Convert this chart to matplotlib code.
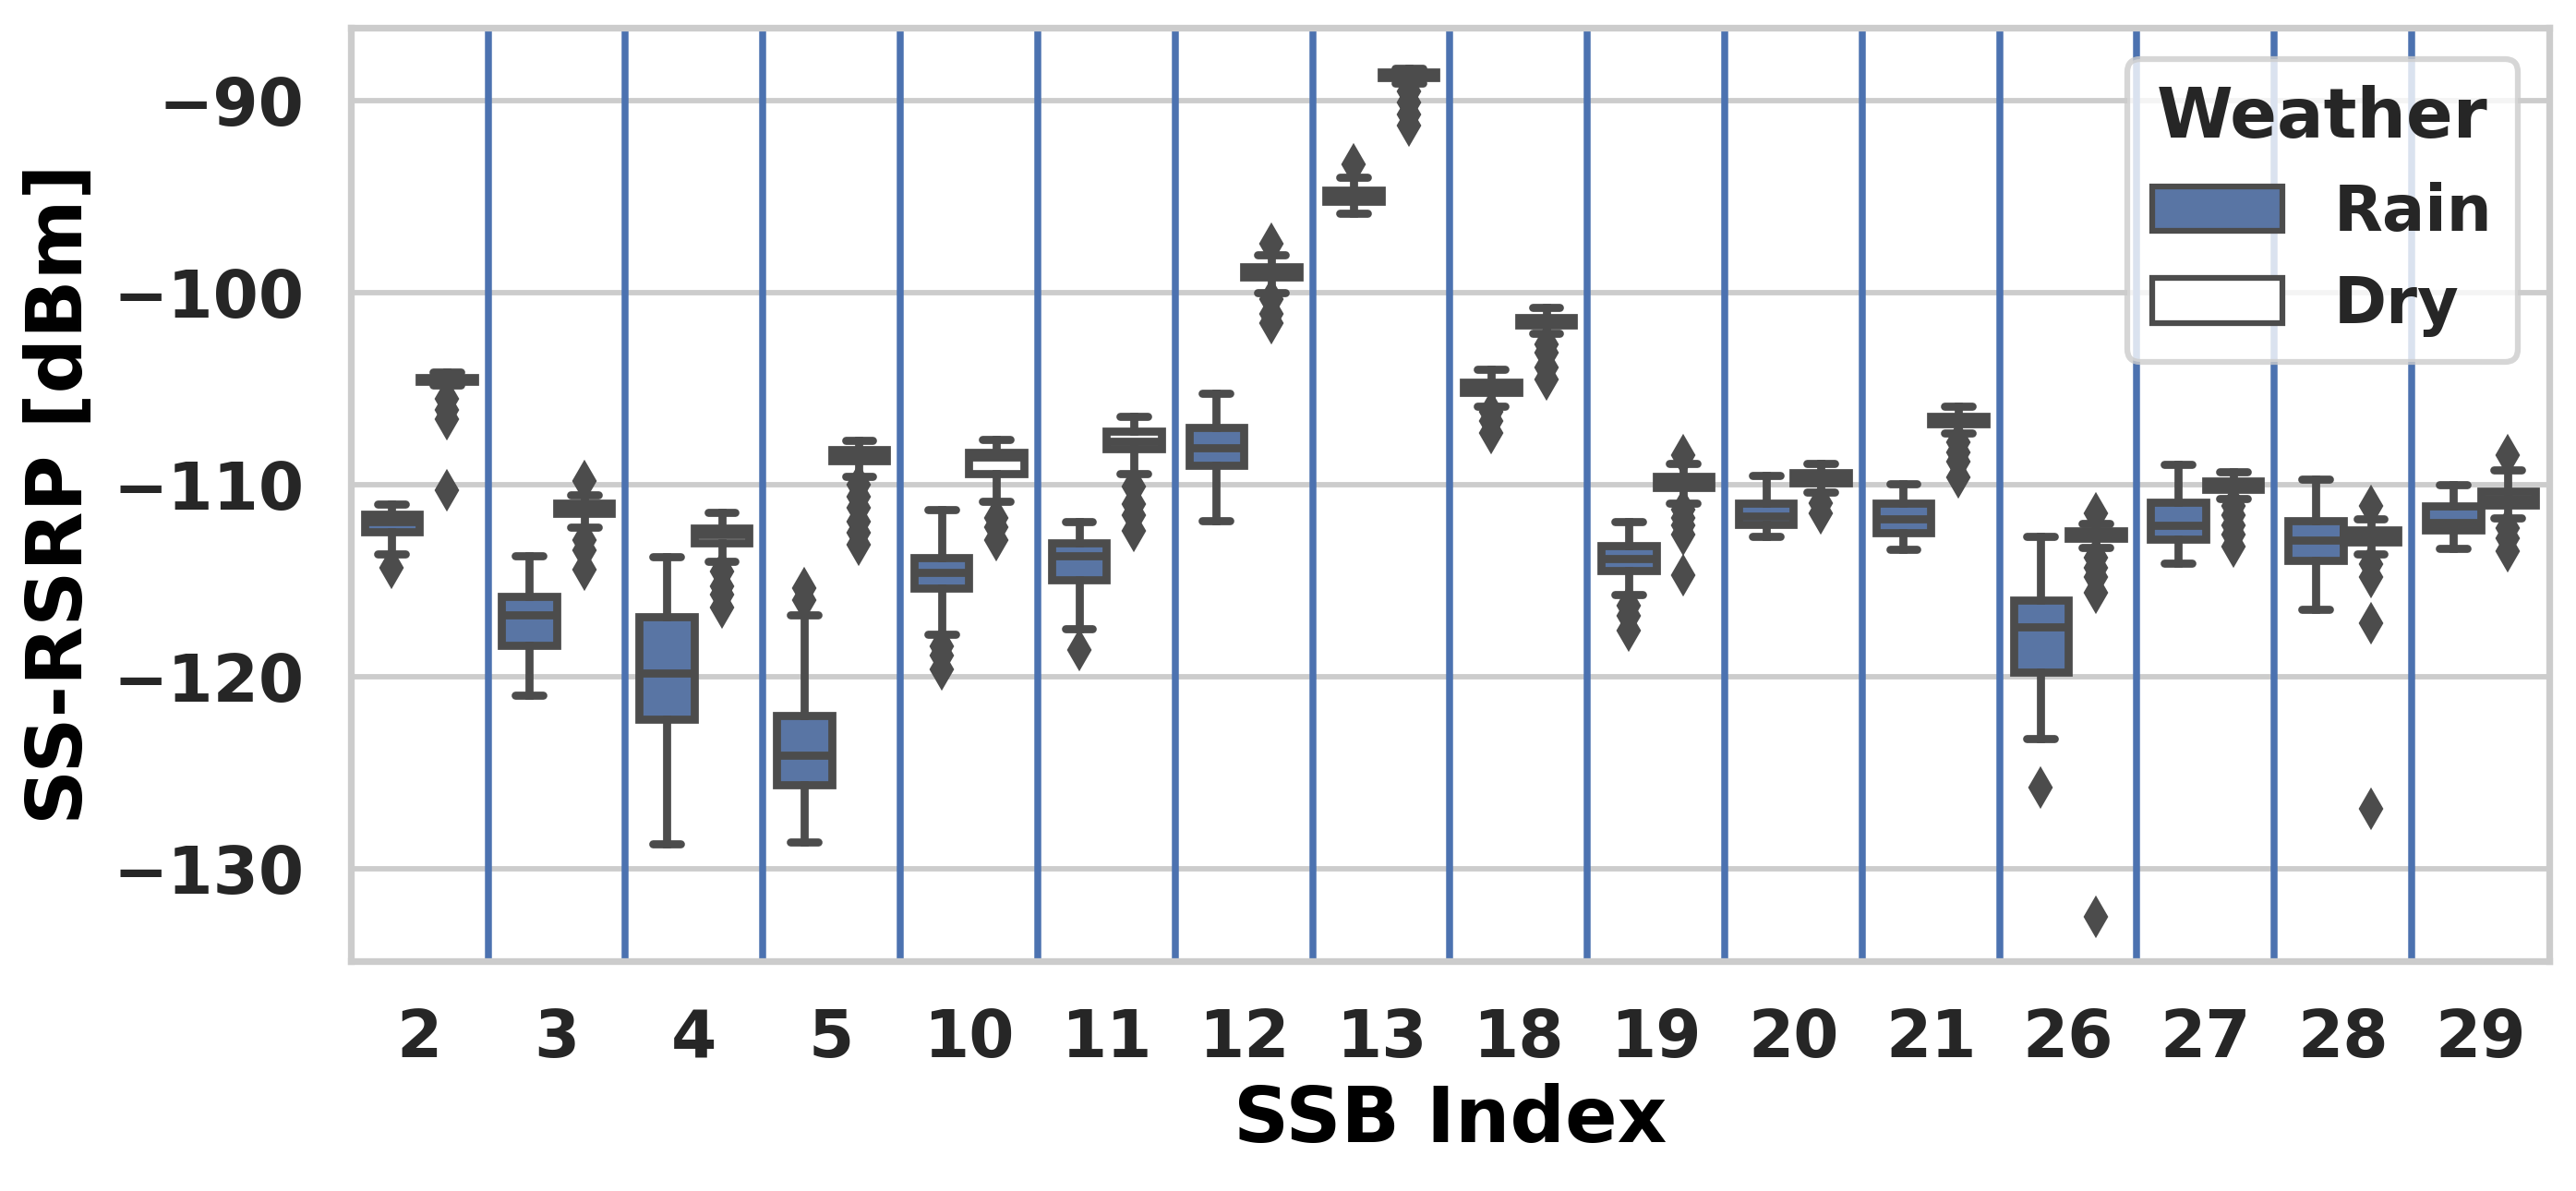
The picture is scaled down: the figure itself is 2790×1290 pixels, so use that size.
import numpy as np
import matplotlib
matplotlib.use("Agg")
import matplotlib.pyplot as plt
from matplotlib.patches import Patch

# SSB indices on the x axis
ssb = [2, 3, 4, 5, 10, 11, 12, 13, 18, 19, 20, 21, 26, 27, 28, 29]

# box statistics (dBm), Rain
rain_whishi = [-111.0, -113.7, -113.75, -116.75, -111.3, -111.9, -105.25, -94.0,
               -104.0, -111.9, -109.5, -109.95, -112.7, -108.95, -109.7, -110.0]
rain_q3 = [-111.55, -115.8, -116.85, -122.0, -113.8, -113.0, -107.0, -94.65,
           -104.65, -113.15, -110.95, -110.95, -116.0, -110.9, -111.85, -111.1]
rain_med = [-111.9, -116.75, -119.8, -124.1, -114.55, -113.7, -108.05, -94.95,
            -104.9, -113.85, -111.65, -111.75, -117.4, -112.1, -112.9, -111.95]
rain_q1 = [-112.45, -118.35, -122.2, -125.6, -115.4, -114.95, -109.0, -95.25,
           -105.2, -114.45, -112.05, -112.5, -119.75, -112.85, -113.95, -112.35]
rain_whislo = [-113.6, -120.95, -128.7, -128.6, -117.8, -117.5, -111.85, -95.85,
               -105.9, -115.7, -112.7, -113.35, -123.2, -114.1, -116.5, -113.3]
rain_fliers = [[-114.3], [], [], [-115.4, -116.0], [-118.4, -118.9, -119.6],
               [-118.6], [], [-93.3], [-106.2, -106.7, -107.3],
               [-116.3, -116.8, -117.6], [], [], [-125.75], [], [], []]

# Dry
dry_whishi = [-104.15, -110.5, -111.45, -107.7, -107.65, -106.45, -98.0, -88.3,
              -100.75, -108.9, -108.9, -105.9, -112.0, -109.3, -111.75, -109.2]
dry_q3 = [-104.4, -110.95, -112.25, -108.15, -108.3, -107.2, -98.65, -88.5,
          -101.3, -109.55, -109.35, -106.45, -112.4, -109.8, -112.35, -110.35]
dry_med = [-104.5, -111.2, -112.6, -108.4, -108.55, -107.75, -98.9, -88.65,
           -101.5, -109.8, -109.6, -106.6, -112.6, -110.0, -112.65, -110.7]
dry_q1 = [-104.6, -111.5, -113.0, -108.75, -109.4, -108.1, -99.2, -88.8,
          -101.7, -110.15, -109.9, -106.8, -112.8, -110.25, -112.95, -111.05]
dry_whislo = [-104.8, -112.2, -114.0, -109.55, -110.85, -109.4, -100.0, -89.1,
              -102.1, -110.95, -110.4, -107.3, -113.25, -110.7, -113.6, -111.7]
dry_fliers = [[-105.5, -106.1, -106.6, -110.3],
              [-109.8, -112.9, -113.4, -114.4],
              [-114.5, -115.3, -115.7, -116.4],
              [-110.0, -110.6, -111.2, -111.9, -112.5, -113.1],
              [-111.7, -112.2, -112.9],
              [-110.1, -111.0, -111.6, -112.4],
              [-97.45, -100.35, -101.1, -101.6],
              [-89.5, -90.1, -90.7, -91.3],
              [-102.7, -103.1, -103.9, -104.5],
              [-108.45, -111.3, -111.7, -112.1, -112.6, -114.7],
              [-110.95, -111.5],
              [-107.8, -108.3, -108.8, -109.6],
              [-111.5, -113.8, -114.3, -114.8, -115.6, -132.5],
              [-111.1, -111.6, -112.1, -112.6, -113.2],
              [-111.1, -114.15, -114.8, -117.2, -126.85],
              [-108.45, -112.25, -112.8, -113.45]]

RAIN = "#5975a4"
GRAY = "#4c4c4c"
LINE_BLUE = "#4c72b0"
LW = 2.1


def make_stats(lo, q1, med, q3, hi, fl):
    return [dict(whislo=a, q1=b, med=c, q3=d, whishi=e, fliers=f)
            for a, b, c, d, e, f in zip(lo, q1, med, q3, hi, fl)]


plt.rcParams['font.family'] = ['DejaVu Sans']
plt.rcParams['font.weight'] = 'bold'
plt.rcParams['axes.labelweight'] = 'bold'
plt.rcParams['text.color'] = '#262626'

fig, ax = plt.subplots(figsize=(9.3, 4.3), dpi=300)
fig.subplots_adjust(left=0.1361, right=0.9896, top=0.9767, bottom=0.193)

ax.set_axisbelow(True)
ax.yaxis.grid(True, color='#cccccc', linewidth=1.4)
ax.xaxis.grid(False)
for sp in ax.spines.values():
    sp.set_color('#cccccc')
    sp.set_linewidth(1.75)

x = np.arange(len(ssb))
common = dict(widths=0.4, capwidths=0.2, patch_artist=True, manage_ticks=False,
              whiskerprops=dict(color=GRAY, linewidth=LW),
              capprops=dict(color=GRAY, linewidth=LW, solid_capstyle='round'),
              medianprops=dict(color=GRAY, linewidth=LW),
              flierprops=dict(marker='d', markerfacecolor=GRAY, markeredgecolor=GRAY,
                              markersize=6.3, linestyle='none'))

ax.bxp(make_stats(rain_whislo, rain_q1, rain_med, rain_q3, rain_whishi, rain_fliers),
       positions=x - 0.2,
       boxprops=dict(facecolor=RAIN, edgecolor=GRAY, linewidth=LW), **common)
ax.bxp(make_stats(dry_whislo, dry_q1, dry_med, dry_q3, dry_whishi, dry_fliers),
       positions=x + 0.2,
       boxprops=dict(facecolor='white', edgecolor=GRAY, linewidth=LW), **common)

# separators between SSB groups
for b in x[:-1] + 0.5:
    ax.axvline(b, color=LINE_BLUE, linewidth=1.8, zorder=1.5)

ax.set_xlim(-0.5, len(ssb) - 0.5)
ax.set_ylim(-134.8, -86.2)
ax.set_xticks(x)
ax.set_xticklabels([str(s) for s in ssb])
ax.set_yticks([-130, -120, -110, -100, -90])
ax.tick_params(axis='both', length=0, labelsize=17, labelcolor='#262626')
ax.tick_params(axis='x', pad=12)
ax.tick_params(axis='y', pad=12)

ax.set_xlabel("SSB Index", fontsize=20, labelpad=3)
ax.set_ylabel("SS-RSRP [dBm]", fontsize=20, labelpad=4)

handles = [Patch(facecolor=RAIN, edgecolor=GRAY, linewidth=1.5, label='Rain'),
           Patch(facecolor='white', edgecolor=GRAY, linewidth=1.5, label='Dry')]
leg = ax.legend(handles=handles, title='Weather', loc='upper right',
                prop={'weight': 'bold', 'size': 16.5},
                title_fontproperties={'weight': 'bold', 'size': 18},
                labelspacing=0.47, handlelength=2.05, framealpha=0.8)
leg.get_frame().set_edgecolor('#cccccc')
leg.get_frame().set_linewidth(1.5)

plt.savefig('out.png')
